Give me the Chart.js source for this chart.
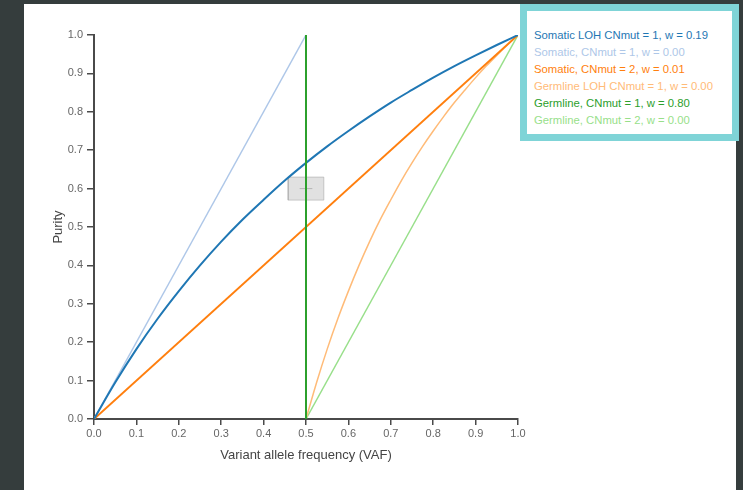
<!DOCTYPE html>
<html>
<head>
<meta charset="utf-8">
<script src="https://cdn.jsdelivr.net/npm/chart.js@4/dist/chart.umd.min.js"></script>
<style>
  html, body { margin: 0; padding: 0; }
  body { width: 743px; height: 490px; background: #353d3d; position: relative; overflow: hidden;
         font-family: "Liberation Sans", Arial, sans-serif; }
  #panel { position: absolute; left: 24px; top: 4px; width: 712px; height: 486px; background: #fff; }
  #chart { position: absolute; left: 0; top: 0; }
  #legend { position: absolute; left: 520px; top: 4px; width: 205px; height: 123px;
            border: 7px solid #7fd4d7; background: #fff; padding-top: 0; }
  #legend div { position: absolute; left: 7px; font-size: 11.3px; line-height: 13px; white-space: nowrap; }
</style>
</head>
<body>
<div id="panel"></div>
<canvas id="chart" width="743" height="490"></canvas>
<div id="legend"></div>
<script>
// curve points (VAF on x, purity on y)
const somaticLohVaf = [0, 0.05, 0.1, 0.15, 0.2, 0.25, 0.3, 0.35, 0.4, 0.45, 0.5, 0.55, 0.6, 0.65, 0.7, 0.75, 0.8, 0.85, 0.9, 0.95, 1.0];
const somaticLohPurity = [0, 0.095, 0.182, 0.261, 0.333, 0.4, 0.462, 0.519, 0.571, 0.621, 0.667, 0.71, 0.75, 0.788, 0.824, 0.857, 0.889, 0.919, 0.947, 0.974, 1.0];

const somatic1Vaf = [0, 0.5];
const somatic1Purity = [0, 1];

const somatic2Vaf = [0, 1];
const somatic2Purity = [0, 1];

const germlineLohVaf = [0.5, 0.525, 0.55, 0.575, 0.6, 0.625, 0.65, 0.675, 0.7, 0.725, 0.75, 0.775, 0.8, 0.825, 0.85, 0.875, 0.9, 0.925, 0.95, 0.975, 1.0];
const germlineLohPurity = [0, 0.095, 0.182, 0.261, 0.333, 0.4, 0.462, 0.519, 0.571, 0.621, 0.667, 0.71, 0.75, 0.788, 0.824, 0.857, 0.889, 0.919, 0.947, 0.974, 1.0];

const germline1Vaf = [0.5, 0.5];
const germline1Purity = [0, 1];

const germline2Vaf = [0.5, 1];
const germline2Purity = [0, 1];

// grey box around the observed point
const boxVaf = [0.458, 0.542, 0.542, 0.458, 0.458];
const boxPurity = [0.57, 0.57, 0.63, 0.63, 0.57];
const markVaf = [0.485, 0.515];
const markPurity = [0.6, 0.6];

const seriesNames = ["Somatic LOH CNmut = 1", "Somatic, CNmut = 1", "Somatic, CNmut = 2",
                     "Germline LOH CNmut = 1", "Germline, CNmut = 1", "Germline, CNmut = 2"];
const weights = [0.19, 0.00, 0.01, 0.00, 0.80, 0.00];
const colors = ["#1f77b4", "#aec7e8", "#ff7f0e", "#ffbb78", "#2ca02c", "#98df8a"];
const widths = [2, 1.5, 2, 1.5, 2, 1.5];

const xTicks = [0, 0.1, 0.2, 0.3, 0.4, 0.5, 0.6, 0.7, 0.8, 0.9, 1.0];
const yTicks = [0, 0.1, 0.2, 0.3, 0.4, 0.5, 0.6, 0.7, 0.8, 0.9, 1.0];

const toPoints = (xs, ys) => xs.map((x, i) => ({ x: x, y: ys[i] }));

const curves = [
  [somaticLohVaf, somaticLohPurity],
  [somatic1Vaf, somatic1Purity],
  [somatic2Vaf, somatic2Purity],
  [germlineLohVaf, germlineLohPurity],
  [germline1Vaf, germline1Purity],
  [germline2Vaf, germline2Purity],
];

// green vertical first so it sits on top
const drawOrder = [4, 0, 2, 1, 3, 5];
const datasets = drawOrder.map((i) => ({
  label: seriesNames[i],
  data: toPoints(curves[i][0], curves[i][1]),
  borderColor: colors[i],
  borderWidth: widths[i],
  showLine: true,
  pointRadius: 0,
  cubicInterpolationMode: "monotone",
  fill: false,
}));

datasets.push({
  label: "mark",
  data: toPoints(markVaf, markPurity),
  borderColor: "#b5b5b5",
  borderWidth: 1,
  showLine: true,
  pointRadius: 0,
});
datasets.push({
  label: "box",
  data: toPoints(boxVaf, boxPurity),
  borderColor: "rgba(170,170,170,0.6)",
  backgroundColor: "rgba(200,200,200,0.55)",
  borderWidth: 1,
  showLine: true,
  pointRadius: 0,
  fill: "shape",
});

const axisColor = "#4a4a4a";
const tickFont = { family: "'Liberation Sans', Arial, sans-serif", size: 11 };
const titleFont = { family: "'Liberation Sans', Arial, sans-serif", size: 13 };

new Chart(document.getElementById("chart"), {
  type: "scatter",
  data: { datasets },
  options: {
    responsive: false,
    animation: false,
    layout: { padding: { left: 45, right: 225, top: 35, bottom: 23 } },
    plugins: { legend: { display: false }, tooltip: { enabled: false } },
    scales: {
      x: {
        type: "linear",
        min: 0,
        max: 1,
        afterFit: (scale) => { scale.height = 48; },
        afterBuildTicks: (scale) => { scale.ticks = xTicks.map((v) => ({ value: v })); },
        ticks: { color: "#666", font: tickFont, padding: 2, callback: (v) => v.toFixed(1) },
        grid: { display: true, drawOnChartArea: false, drawTicks: true, tickLength: 6, color: axisColor, lineWidth: 1.5 },
        border: { display: true, color: axisColor, width: 2 },
        title: { display: true, text: "Variant allele frequency (VAF)", color: "#444", font: titleFont },
      },
      y: {
        type: "linear",
        min: 0,
        max: 1,
        afterFit: (scale) => { scale.width = 49; },
        afterBuildTicks: (scale) => { scale.ticks = yTicks.map((v) => ({ value: v })); },
        ticks: { color: "#666", font: tickFont, padding: 4, callback: (v) => v.toFixed(1) },
        grid: { display: true, drawOnChartArea: false, drawTicks: true, tickLength: 7, color: axisColor, lineWidth: 1.5 },
        border: { display: true, color: axisColor, width: 2 },
        title: { display: true, text: "Purity", color: "#444", font: titleFont, padding: { top: 6, bottom: 4 } },
      },
    },
  },
});

// legend box, top right
const legend = document.getElementById("legend");
seriesNames.forEach((name, i) => {
  const row = document.createElement("div");
  row.style.top = (18 + i * 17) + "px";
  row.style.color = colors[i];
  row.textContent = name + ", w = " + weights[i].toFixed(2);
  legend.appendChild(row);
});
</script>
</body>
</html>
